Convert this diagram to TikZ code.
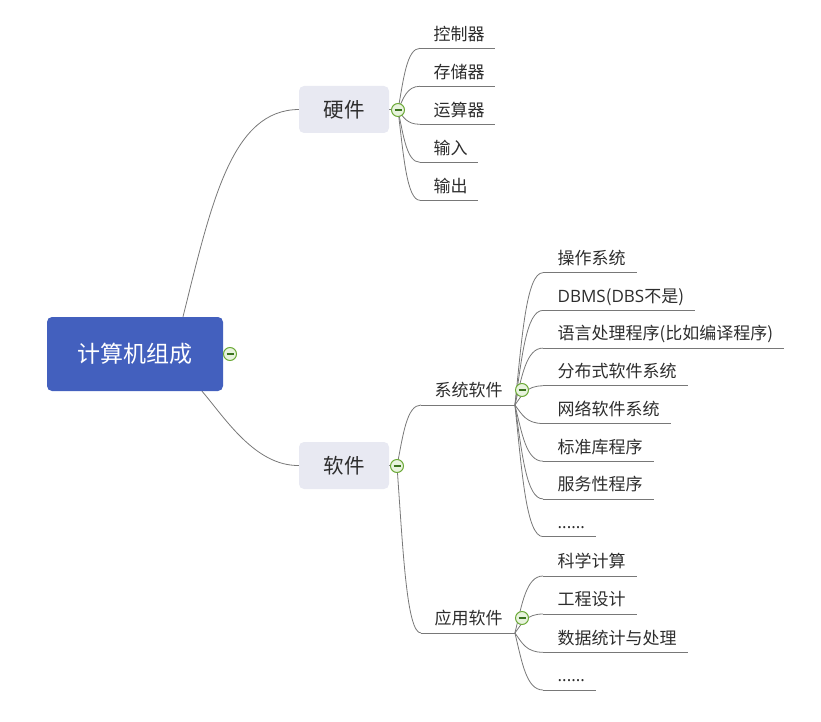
\documentclass[tikz,border=0pt]{standalone}
\usepackage{fontspec}
\setmainfont{Noto Sans CJK SC}
\newfontfamily\lat{Open Sans}
\usetikzlibrary{calc,backgrounds}
\definecolor{rootblue}{RGB}{67,96,190}
\definecolor{boxgray}{RGB}{232,233,242}
\definecolor{linegray}{RGB}{120,120,120}
\definecolor{txt}{RGB}{45,45,45}
\definecolor{tgreen}{RGB}{108,170,56}
\definecolor{tfill}{RGB}{232,243,222}
\definecolor{tminus}{RGB}{58,115,30}
\newcommand\mmbranch[2]{%
  \draw[link] let \p1=(#1), \p2=(#2) in (\p1) .. controls ({\x1+0.25*(\x2-\x1)},{\y1+0.5*(\y2-\y1)}) and ({\x1+0.4*(\x2-\x1)},\y2) .. (\p2);}
\begin{document}
\begin{tikzpicture}[x=1pt,y=-1pt,
  link/.style={draw=linegray, line width=0.8pt},
  rootbox/.style={fill=rootblue, rounded corners=5pt, text=white, font=\fontsize{23}{28}\selectfont, minimum width=176pt, minimum height=74pt, inner sep=0pt},
  mainbox/.style={fill=boxgray, rounded corners=5pt, text=txt, font=\fontsize{20.5}{24}\selectfont, minimum width=90pt, minimum height=47pt, inner sep=0pt},
  leaf/.style={anchor=south west, inner sep=0pt, text height=13pt, text depth=8pt, text=txt, font=\fontsize{17}{20}\selectfont},
  toggle/.style={circle, draw=tgreen, fill=tfill, line width=1pt, minimum size=13pt, inner sep=0pt,
    path picture={\draw[tminus, line width=1.1pt] ([xshift=-3.5pt]path picture bounding box.center) -- ([xshift=3.5pt]path picture bounding box.center);}}
]
\useasboundingbox (0,0) rectangle (821,722);

% main nodes
\node[rootbox] (root) at (135,354) {计算机组成};
\node[mainbox] (hw) at (344,109.5) {硬件};
\node[mainbox] (sw) at (344,465.5) {软件};

% hardware leaves
\node[leaf] (h1) at (420,48.3)  {\hspace*{13.5pt}控制器\hspace*{10pt}};
\node[leaf] (h2) at (420,86.3)  {\hspace*{13.5pt}存储器\hspace*{10pt}};
\node[leaf] (h3) at (420,124.3) {\hspace*{13.5pt}运算器\hspace*{10pt}};
\node[leaf] (h4) at (420,162.3) {\hspace*{13.5pt}输入\hspace*{10pt}};
\node[leaf] (h5) at (420,200.3) {\hspace*{13.5pt}输出\hspace*{10pt}};

% software children
\node[leaf] (sys) at (421,405) {\hspace*{13.5pt}系统软件\hspace*{12pt}};
\node[leaf] (app) at (421,633) {\hspace*{13.5pt}应用软件\hspace*{12pt}};

% system software leaves
\node[leaf] (s1) at (543,272.7) {\hspace*{14.5pt}操作系统\hspace*{11pt}};
\node[leaf] (s2) at (543,310.4) {\hspace*{14.5pt}{\lat DBMS}({\lat DBS}不是)\hspace*{11pt}};
\node[leaf] (s3) at (543,348.1) {\hspace*{14.5pt}语言处理程序(比如编译程序)\hspace*{11pt}};
\node[leaf] (s4) at (543,385.8) {\hspace*{14.5pt}分布式软件系统\hspace*{11pt}};
\node[leaf] (s5) at (543,423.5) {\hspace*{14.5pt}网络软件系统\hspace*{11pt}};
\node[leaf] (s6) at (543,461.2) {\hspace*{14.5pt}标准库程序\hspace*{11pt}};
\node[leaf] (s7) at (543,498.9) {\hspace*{14.5pt}服务性程序\hspace*{11pt}};
\node[leaf] (s8) at (543,536.6) {\hspace*{14.5pt}{\lat ......}\hspace*{11pt}};

% application software leaves
\node[leaf] (a1) at (543,576) {\hspace*{14.5pt}科学计算\hspace*{11pt}};
\node[leaf] (a2) at (543,614) {\hspace*{14.5pt}工程设计\hspace*{11pt}};
\node[leaf] (a3) at (543,652.3) {\hspace*{14.5pt}数据统计与处理\hspace*{11pt}};
\node[leaf] (a4) at (543,690) {\hspace*{14.5pt}{\lat ......}\hspace*{11pt}};

% toggles
\node[toggle] (rt) at (230,354) {};
\node[toggle] (ht) at (398,110) {};
\node[toggle] (st) at (397,466) {};
\node[toggle] (syt) at (522,390) {};
\node[toggle] (apt) at (522,618) {};

\coordinate (rtop) at ([xshift=48pt]root.north);
\coordinate (rbot) at ([xshift=67pt]root.south);

\begin{pgfonlayer}{background}
  % root connectors
  \draw[link] (rtop) .. controls (212,200) and (232,110) .. (hw.west);
  \draw[link] (rbot) .. controls (225,418) and (255,466) .. (sw.west);
  % stubs
  \draw[link] (hw.east) -- (ht.center);
  \draw[link] (sw.east) -- (st.center);
  % underlines
  \foreach \k in {h1,h2,h3,h4,h5,sys,app,s1,s2,s3,s4,s5,s6,s7,s8,a1,a2,a3,a4}
    \draw[link] (\k.south west) -- (\k.south east);
  % branches
  \foreach \k in {h1,h2,h3,h4,h5} {\mmbranch{ht.center}{\k.south west}}
  \foreach \k in {sys,app} {\mmbranch{st.center}{\k.south west}}
  \foreach \k in {s1,s2,s3,s4,s5,s6,s7,s8} {\mmbranch{sys.south east}{\k.south west}}
  \foreach \k in {a1,a2,a3,a4} {\mmbranch{app.south east}{\k.south west}}
\end{pgfonlayer}
\end{tikzpicture}
\end{document}
